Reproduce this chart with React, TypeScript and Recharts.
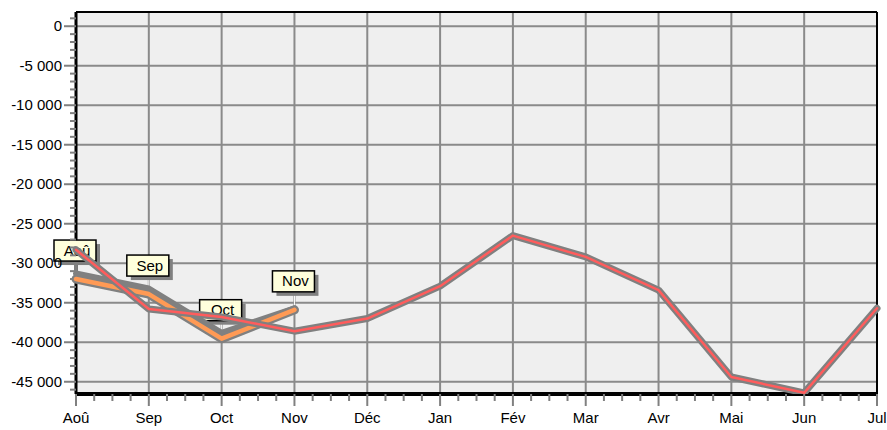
import { CartesianGrid, Line, LineChart, ReferenceLine, XAxis, YAxis } from 'recharts'

const months = ['Aoû', 'Sep', 'Oct', 'Nov', 'Déc', 'Jan', 'Fév', 'Mar', 'Avr', 'Mai', 'Jun', 'Jul']

// main series, Aug -> Jul
const mainValues = [-28300, -35800, -36800, -38600, -37000, -32900, -26500, -29200, -33400, -44400, -46400, -35700]
// short series, Aug -> Nov only
const orangeValues = [-32000, -33900, -39550, -35900]
const grayValues = [-31300, -33200, -38800, -35700]

const yMajorTicks = [0, -5000, -10000, -15000, -20000, -25000, -30000, -35000, -40000, -45000]
const yMinorTicks = Array.from({ length: 48 }, (_, k) => 1000 - k * 1000)
const xMajorTicks = months.map((_, i) => i)
const xMinorTicks = Array.from({ length: 45 }, (_, k) => k / 4)

const yDomain = [-46550, 1800]

const rows = months.map((month, i) => ({
  i,
  month,
  main: mainValues[i],
  orange: orangeValues[i] ?? null,
  gray: grayValues[i] ?? null,
}))

const FONT = 'Arial, "Liberation Sans", sans-serif'
const OUTLINE = '#808080'

function formatThousands(value: number) {
  const digits = String(Math.abs(value)).replace(/\B(?=(\d{3})+(?!\d))/g, '\u00a0')
  return value < 0 ? `-${digits}` : digits
}

function YTick({ x, y, payload }: any) {
  const value = payload.value as number
  const major = value % 5000 === 0
  return (
    <g>
      <line x1={x + (major ? 2 : 8)} x2={x + 14} y1={y} y2={y} stroke={OUTLINE} strokeWidth={2} />
      {major && (
        <text x={x} y={y + 5} textAnchor="end" fontSize={15} fontFamily={FONT} fill="#000">
          {formatThousands(value)}
        </text>
      )}
    </g>
  )
}

function XTick({ x, y, payload }: any) {
  const value = payload.value as number
  const major = Number.isInteger(value)
  return (
    <g>
      <line x1={x} x2={x} y1={y - 14} y2={y - (major ? 2 : 7)} stroke={OUTLINE} strokeWidth={2} />
      {major && (
        <text x={x} y={y + 15} textAnchor="middle" fontSize={15} fontFamily={FONT} fill="#000">
          {months[value]}
        </text>
      )}
    </g>
  )
}

// callout boxes sit under the lines, so they are drawn as dots of the first (invisible) series
function BoxDot({ cx, cy, payload, index }: any) {
  if (cx == null || cy == null || payload?.orange == null) return <g key={`box-${index}`} />
  const top = cy - 18 - 21
  return (
    <g key={`box-${index}`}>
      <line x1={cx} x2={cx} y1={top + 21} y2={cy} stroke="#fff" strokeWidth={1} />
      <rect x={cx - 22 + 4} y={top + 4} width={42} height={21} fill={OUTLINE} />
      <rect x={cx - 22} y={top} width={42} height={21} fill="#ffffdc" stroke="#000" strokeWidth={1.5} />
      <text x={cx + 1} y={top + 15.5} textAnchor="middle" fontSize={15} fontFamily={FONT} fill="#000">
        {payload.month}
      </text>
    </g>
  )
}

const lineBase = {
  strokeLinecap: 'round' as const,
  strokeLinejoin: 'round' as const,
  dot: false,
  activeDot: false,
  isAnimationActive: false,
}

export default function App() {
  return (
    <div style={{ position: 'absolute', left: 0, top: 0 }}>
      <LineChart width={887} height={430} data={rows} margin={{ top: 12, right: 10, bottom: 0, left: 0 }}>
        <CartesianGrid
          fill="#efefef"
          stroke="#8a8a8a"
          strokeWidth={2}
          horizontalValues={yMajorTicks}
          verticalValues={xMajorTicks}
        />
        <XAxis
          type="number"
          dataKey="i"
          domain={[0, 11]}
          ticks={xMinorTicks}
          interval={0}
          height={36}
          tickSize={10}
          tickMargin={4}
          tickLine={false}
          tick={<XTick />}
          axisLine={{ stroke: '#000', strokeWidth: 4 }}
        />
        <YAxis
          type="number"
          domain={yDomain}
          ticks={yMinorTicks}
          interval={0}
          width={76}
          tickSize={12}
          tickMargin={2}
          tickLine={false}
          tick={<YTick />}
          axisLine={{ stroke: '#000', strokeWidth: 3 }}
          allowDataOverflow
        />
        <ReferenceLine y={1800} stroke="#000" strokeWidth={2} />
        <ReferenceLine x={11} stroke="#000" strokeWidth={2} />

        <Line dataKey="orange" stroke="none" dot={(p: any) => <BoxDot {...p} />} activeDot={false} isAnimationActive={false} />
        <Line dataKey="gray" stroke={OUTLINE} strokeWidth={6} zIndex={2101} {...lineBase} />
        <Line dataKey="orange" stroke={OUTLINE} strokeWidth={9} zIndex={2102} {...lineBase} />
        <Line dataKey="orange" stroke="#ff9a55" strokeWidth={4.5} zIndex={2103} {...lineBase} />
        <Line dataKey="main" stroke={OUTLINE} strokeWidth={7} zIndex={2104} {...lineBase} />
        <Line dataKey="main" stroke="#ff5c5c" strokeWidth={2.5} zIndex={2105} {...lineBase} />
      </LineChart>
    </div>
  )
}
